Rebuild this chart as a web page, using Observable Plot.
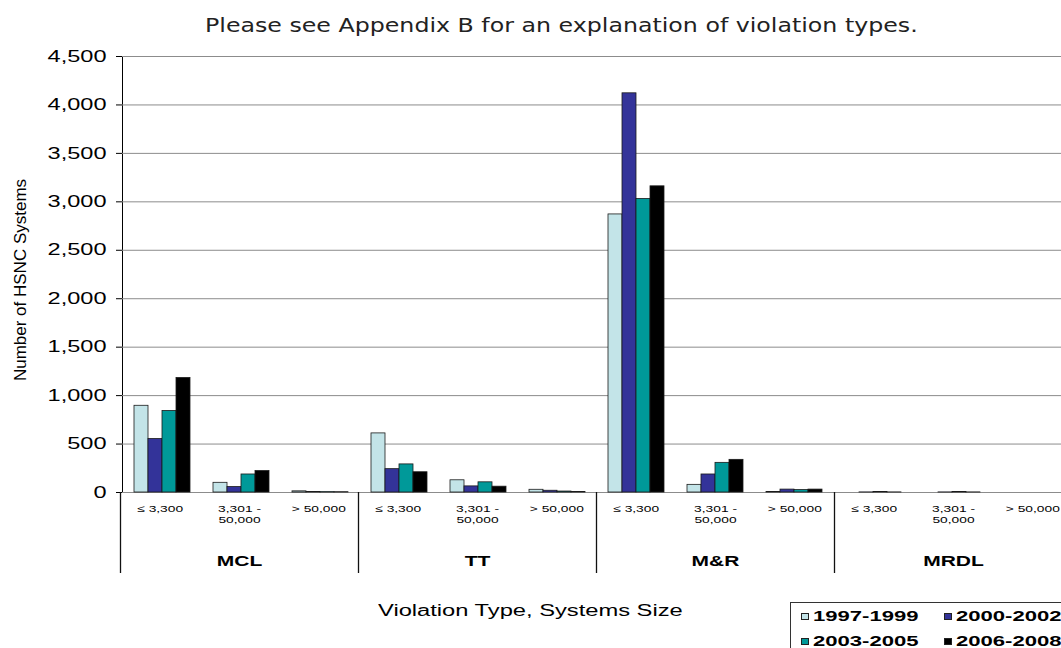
<!DOCTYPE html>
<html><head><meta charset="utf-8">
<script src="https://cdn.jsdelivr.net/npm/d3@7"></script>
<script src="https://cdn.jsdelivr.net/npm/@observablehq/plot@0.6"></script>
<style>
html,body{margin:0;padding:0;background:#fff;overflow:hidden;}
#wrap{position:relative;width:1061px;height:648px;overflow:hidden;font-family:"Liberation Sans",Arial,sans-serif;color:#000;background:#fff;}
.abs{position:absolute;white-space:nowrap;}
#title{font-family:"DejaVu Sans",sans-serif;font-size:20px;line-height:20px;color:#222;top:15px;left:561px;transform-origin:left top;}
#xtitle{font-size:16px;line-height:16px;top:603px;left:530px;transform-origin:left top;}
#ytitle{font-size:17px;line-height:17px;left:20px;top:280px;transform:translate(-50%,-50%) rotate(-90deg);}
#legend{left:790px;top:602px;width:320px;height:60px;border:1px solid #333;box-sizing:border-box;}
.lt{font-weight:bold;font-size:15px;line-height:15px;transform-origin:left top;}
.sw{width:8px;height:7px;border:1px solid #222;box-sizing:border-box;}
#main,#cats{position:absolute;left:0;}
</style></head>
<body><div id="wrap">
<div id="title" class="abs">Please see Appendix B for an explanation of violation types.</div>
<div id="ytitle" class="abs">Number of HSNC Systems</div>
<div id="xtitle" class="abs">Violation Type, Systems Size</div>
<div id="legend" class="abs"></div>
</div>
<script>
// ---- data ----
const groups = ["MCL", "TT", "M&R", "MRDL"];
const sizes = ["≤ 3,300", "3,301 -\n50,000", "> 50,000"];
const periods = ["1997-1999", "2000-2002", "2003-2005", "2006-2008"];
const colors = ["#C3E4E8", "#333399", "#009999", "#000000"];
const yTicks = [0, 500, 1000, 1500, 2000, 2500, 3000, 3500, 4000, 4500];
// values in order MCL(≤3,300 | 3,301-50,000 | >50,000), TT(...), M&R(...), MRDL(...)
const v1997 = [895, 100, 12, 610, 126, 28, 2870, 79, 5, 0, 0, 0];
const v2000 = [552, 56, 5, 241, 63, 18, 4120, 186, 30, 1, 1, 0];
const v2003 = [841, 186, 4, 290, 105, 10, 3030, 306, 25, 6, 5, 0];
const v2006 = [1182, 221, 3, 209, 60, 6, 3160, 337, 30, 1, 1, 0];

const seriesValues = [v1997, v2000, v2003, v2006];
const subKeys = groups.flatMap(g => sizes.map(s => g + "|" + s));
const rows = [];
periods.forEach((p, j) => seriesValues[j].forEach((v, i) => rows.push({key: subKeys[i], period: p, value: v})));

const wrap = document.getElementById("wrap");
const fmt = d3.format(",d");

// ---- main chart ----
const main = Plot.plot({
  width: 1061, height: 456,
  marginTop: 16, marginBottom: 4, marginLeft: 120, marginRight: -11,
  style: {fontFamily: "Liberation Sans, Arial, sans-serif", fontSize: "16px", color: "#000", background: "transparent", overflow: "hidden"},
  fx: {domain: subKeys, padding: 0, axis: null, label: null},
  x: {domain: periods, paddingInner: 0, paddingOuter: 0.78, axis: null},
  y: {domain: [0, 4500], ticks: yTicks, tickFormat: d => fmt(d), label: null, line: true, tickSize: 6, tickPadding: 10},
  color: {domain: periods, range: colors},
  marks: [
    Plot.ruleY(yTicks, {stroke: "#8c8c8c", strokeWidth: 1}),
    Plot.barY(rows, {fx: "key", x: "period", y: "value", fill: "period", stroke: "#1a1a1a", strokeWidth: 0.8})
  ]
});
main.id = "main";
main.style.top = "40px";
main.style.maxWidth = "none";
main.style.overflow = "visible";
wrap.appendChild(main);

// ---- category axis (sizes + violation types) ----
const subs = subKeys.map((k, i) => ({i, label: sizes[i % sizes.length]}));
const bounds = d3.range(groups.length + 1).map(g => g * sizes.length);
const cats = Plot.plot({
  width: 1061, height: 85,
  marginTop: 0, marginBottom: 0, marginLeft: 120, marginRight: -11,
  style: {fontFamily: "Liberation Sans, Arial, sans-serif", color: "#000", background: "transparent", overflow: "hidden"},
  x: {domain: [0, subKeys.length], axis: null},
  y: {axis: null},
  marks: [
    Plot.ruleX(bounds, {stroke: "#111", strokeWidth: 1.3, insetBottom: 4}),
    Plot.text(subs, {x: d => d.i + 0.5, text: "label", frameAnchor: "top", lineAnchor: "top", dy: 12, fontSize: 9.5, lineHeight: 1.15}),
    Plot.text(groups, {x: (d, i) => i * sizes.length + sizes.length / 2, text: d => d, frameAnchor: "top", lineAnchor: "top", dy: 63, fontSize: 15, fontWeight: "bold"})
  ]
});
cats.id = "cats";
cats.style.top = "492px";
cats.style.maxWidth = "none";
wrap.appendChild(cats);

// widen glyphs (the reference text is horizontally stretched)
function stretchEl(el, f) {
  const L = el.getComputedTextLength();
  if (L > 0) { el.setAttribute("textLength", (L * f).toFixed(1)); el.setAttribute("lengthAdjust", "spacingAndGlyphs"); }
}
function stretchText(t, f) {
  const ts = t.querySelectorAll("tspan");
  if (ts.length) ts.forEach(s => stretchEl(s, f)); else stretchEl(t, f);
}
main.querySelectorAll("text").forEach(t => stretchText(t, 1.47));
cats.querySelectorAll("text").forEach(t => {
  const bold = t.closest("[font-weight]");
  stretchText(t, bold ? 1.4 : 1.45);
});

// ---- legend ----
const legend = document.getElementById("legend");
const pos = [[10, 10], [153, 10], [10, 35], [153, 35]];
periods.forEach((p, j) => {
  const sw = document.createElement("div");
  sw.className = "abs sw";
  sw.style.left = pos[j][0] + "px"; sw.style.top = (pos[j][1]) + "px";
  sw.style.background = colors[j];
  legend.appendChild(sw);
  const t = document.createElement("div");
  t.className = "abs lt";
  t.textContent = p;
  t.style.left = (pos[j][0] + 12) + "px"; t.style.top = (pos[j][1] - 5) + "px";
  legend.appendChild(t);
  t.style.transform = `scaleX(${(106 / t.offsetWidth).toFixed(3)})`;
});

// fit HTML titles to the reference widths
function fit(id, target, center) {
  const el = document.getElementById(id);
  const w = el.offsetWidth;
  const k = target / w;
  el.style.left = (center - target / 2) + "px";
  el.style.transform = `scaleX(${k.toFixed(3)})`;
}
fit("title", 712, 561);
fit("xtitle", 305, 530);
</script>
</body></html>
